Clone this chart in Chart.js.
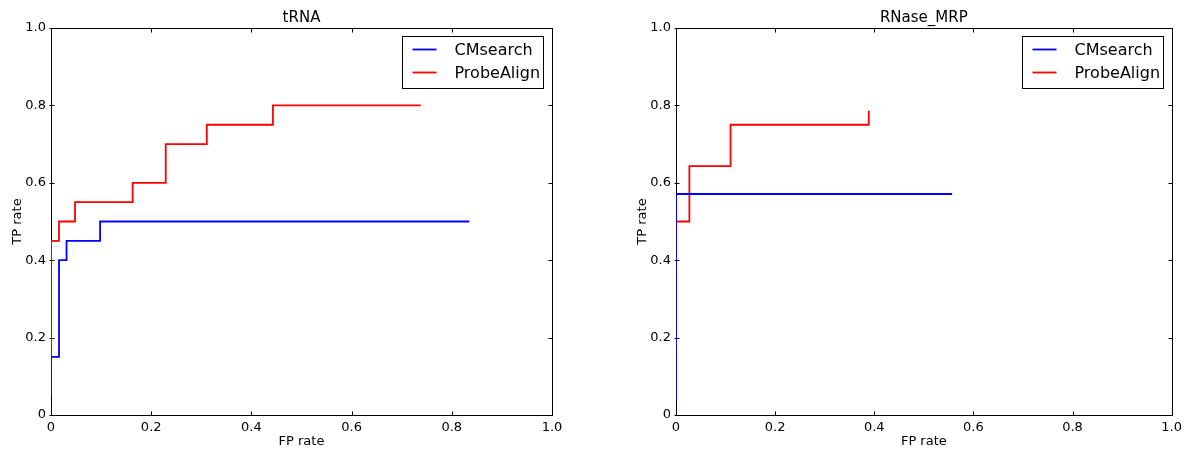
<!DOCTYPE html>
<html>
<head>
<meta charset="utf-8">
<script src="https://cdn.jsdelivr.net/npm/chart.js@4/dist/chart.umd.min.js"></script>
<style>
  body { margin: 0; background: #fff; width: 1187px; height: 449px; position: relative; overflow: hidden; }
  canvas { position: absolute; top: 0; }
  #trnaChart { left: 0; }
  #mrpChart { left: 625px; }
</style>
</head>
<body>
<canvas id="trnaChart" width="593" height="449"></canvas>
<canvas id="mrpChart" width="562" height="449"></canvas>
<script>
// tRNA panel (step points: y holds until next x)
const trnaCmX = [0, 0, 0.016, 0.031, 0.098, 0.835];
const trnaCmY = [0.05, 0.15, 0.4, 0.45, 0.5, 0.5];
const trnaPaX = [0, 0, 0.016, 0.048, 0.163, 0.229, 0.311, 0.443, 0.738];
const trnaPaY = [0.05, 0.45, 0.5, 0.55, 0.6, 0.7, 0.75, 0.8, 0.8];

// RNase_MRP panel
const mrpCmX = [0, 0, 0.557];
const mrpCmY = [0.036, 0.571, 0.571];
const mrpPaX = [0, 0, 0.027, 0.11, 0.389];
const mrpPaY = [0.036, 0.5, 0.643, 0.75, 0.786];

const seriesNames = ["CMsearch", "ProbeAlign"];
const seriesColors = ["#0000ff", "#ff0000"];
const tickValues = [0, 0.2, 0.4, 0.6, 0.8, 1.0];

const FONT = "'DejaVu Sans', 'Bitstream Vera Sans', sans-serif";

function pts(xs, ys) {
  return xs.map((x, i) => ({ x, y: ys[i] }));
}

/* frame, inward ticks, titles, legend */
const mplPlugin = {
  id: "mpl",
  beforeDatasetsDraw(chart) {
    const { ctx, chartArea: a, scales } = chart;
    ctx.save();
    ctx.strokeStyle = "#000";
    ctx.lineWidth = 1;
    const L = Math.round(a.left) + 0.5, R = Math.round(a.right) + 0.5;
    const T = Math.round(a.top) + 0.5, B = Math.round(a.bottom) + 0.5;
    ctx.strokeRect(L, T, R - L, B - T);
    ctx.beginPath();
    tickValues.forEach(v => {
      const px = Math.round(scales.x.getPixelForValue(v)) + 0.5;
      const py = Math.round(scales.y.getPixelForValue(v)) + 0.5;
      ctx.moveTo(px, B); ctx.lineTo(px, B - 4);
      ctx.moveTo(px, T); ctx.lineTo(px, T + 4);
      ctx.moveTo(L - 2, py); ctx.lineTo(L + 3, py);
      ctx.moveTo(R, py); ctx.lineTo(R - 4, py);
    });
    ctx.stroke();
    ctx.restore();
  },
  afterDraw(chart) {
    const { ctx, chartArea: a } = chart;
    const o = chart.options.plugins.mpl;
    const cx = (a.left + a.right) / 2;
    ctx.save();
    ctx.fillStyle = "#000";
    ctx.textAlign = "center";
    ctx.textBaseline = "alphabetic";
    ctx.font = "15px " + FONT;
    ctx.fillText(o.title, cx, 22);
    ctx.font = "13px " + FONT;
    ctx.fillText("FP rate", cx, 445);
    ctx.save();
    ctx.translate(a.left - 30, (a.top + a.bottom) / 2);
    ctx.rotate(-Math.PI / 2);
    ctx.fillText("TP rate", 0, 0);
    ctx.restore();

    // legend
    const bw = 141, bh = 52;
    const bx = Math.round(a.right) - 9 - bw + 0.5;
    const by = Math.round(a.top) + 8 + 0.5;
    ctx.fillStyle = "#fff";
    ctx.fillRect(bx, by, bw, bh);
    ctx.strokeStyle = "#000";
    ctx.lineWidth = 1;
    ctx.strokeRect(bx, by, bw, bh);
    ctx.font = "16px " + FONT;
    ctx.textAlign = "left";
    ctx.textBaseline = "middle";
    seriesNames.forEach((name, i) => {
      const yy = by + 13 + i * 23;
      ctx.strokeStyle = seriesColors[i];
      ctx.lineWidth = 1.8;
      ctx.beginPath();
      ctx.moveTo(bx + 10, yy);
      ctx.lineTo(bx + 34, yy);
      ctx.stroke();
      ctx.fillStyle = "#000";
      ctx.fillText(name, bx + 52, yy + 1);
    });
    ctx.restore();
  }
};

function makeChart(id, title, cm, pa, rightPad) {
  return new Chart(document.getElementById(id), {
    type: "scatter",
    data: {
      datasets: [
        { label: seriesNames[0], data: cm, borderColor: seriesColors[0] },
        { label: seriesNames[1], data: pa, borderColor: seriesColors[1] }
      ]
    },
    options: {
      responsive: false,
      animation: false,
      showLine: true,
      layout: { padding: { top: 28, right: rightPad, left: 0, bottom: 0 } },
      elements: {
        line: { stepped: "before", borderWidth: 1.8, fill: false, tension: 0 },
        point: { radius: 0, hoverRadius: 0 }
      },
      scales: {
        x: {
          type: "linear",
          min: 0, max: 1,
          grid: { display: false, drawTicks: false },
          border: { display: false },
          afterFit: s => { s.height = 34; },
          afterBuildTicks: s => { s.ticks = tickValues.map(v => ({ value: v })); },
          ticks: {
            padding: 5,
            color: "#000",
            font: { family: FONT, size: 13 },
            maxRotation: 0,
            autoSkip: false,
            callback: v => (v === 0 ? "0" : v.toFixed(1))
          }
        },
        y: {
          type: "linear",
          min: 0, max: 1,
          grid: { display: false, drawTicks: false },
          border: { display: false },
          afterFit: s => { s.width = 51; },
          afterBuildTicks: s => { s.ticks = tickValues.map(v => ({ value: v })); },
          ticks: {
            padding: 5,
            color: "#000",
            font: { family: FONT, size: 13 },
            autoSkip: false,
            callback: v => (v === 0 ? "0" : v.toFixed(1))
          }
        }
      },
      plugins: {
        legend: { display: false },
        tooltip: { enabled: false },
        mpl: { title }
      }
    },
    plugins: [mplPlugin]
  });
}

makeChart("trnaChart", "tRNA", pts(trnaCmX, trnaCmY), pts(trnaPaX, trnaPaY), 41);
makeChart("mrpChart", "RNase_MRP", pts(mrpCmX, mrpCmY), pts(mrpPaX, mrpPaY), 10);
</script>
</body>
</html>
